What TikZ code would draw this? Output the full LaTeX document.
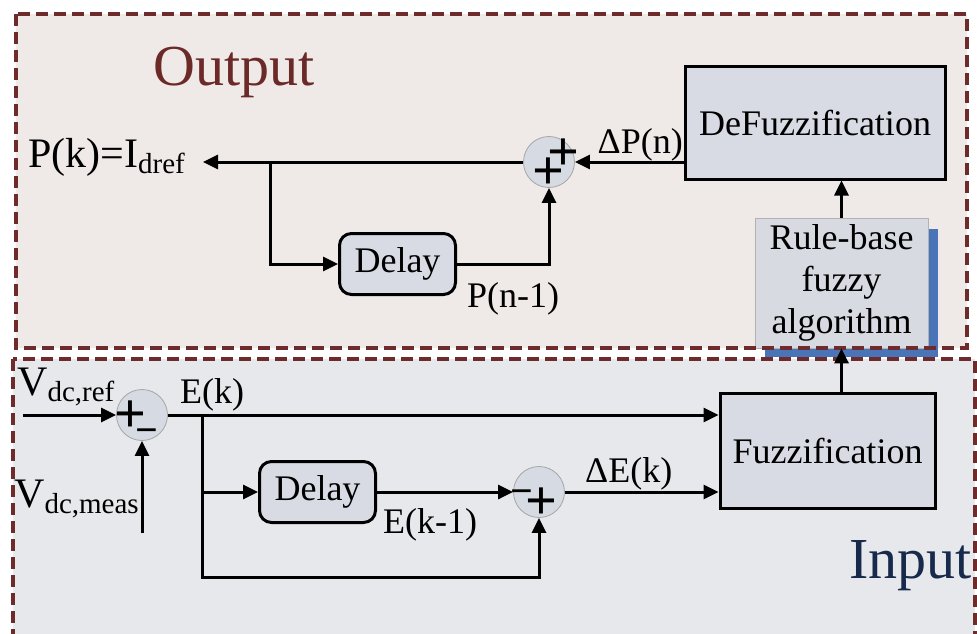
\documentclass[tikz,border=0pt]{standalone}
\usepackage{fontspec}
\setmainfont{Liberation Serif}
\usepackage{xcolor}
\usetikzlibrary{calc,arrows.meta,positioning}
\definecolor{outbg}{HTML}{EFE9E7}
\definecolor{inbg}{HTML}{E7E8EC}
\definecolor{framec}{HTML}{6E2B2B}
\definecolor{boxc}{HTML}{D8DBE3}
\definecolor{rulec}{HTML}{D7DAE1}
\definecolor{shadec}{HTML}{4A74B8}
\definecolor{outc}{HTML}{6B2A27}
\definecolor{inc}{HTML}{172A4B}
\definecolor{sumc}{HTML}{D6DAE3}
\newcommand{\subtx}[1]{\raisebox{-6pt}{\fontsize{29}{30}\selectfont #1}}
\tikzset{
  ar/.style={-{Triangle[length=15pt,width=14pt]},line width=3pt},
  frame/.style={draw=framec,line width=3.2pt,dash pattern=on 12pt off 6pt},
  blk/.style={draw,line width=3pt,fill=boxc,inner sep=0pt,font=\fontsize{36}{42}\selectfont},
  dly/.style={blk,rounded corners=12pt,minimum width=116pt,minimum height=61pt},
  sum/.style={circle,draw=gray!70,line width=0.8pt,fill=sumc,minimum size=51pt,inner sep=0pt},
  lbl/.style={font=\fontsize{36}{42}\selectfont,inner sep=0pt},
  biglbl/.style={font=\fontsize{42}{46}\selectfont,inner sep=0pt},
  sgn/.style={font=\fontsize{56}{56}\selectfont\bfseries,inner sep=0pt},
  msgn/.style={font=\fontsize{40}{40}\selectfont\bfseries,inner sep=0pt},
  ttl/.style={font=\fontsize{58}{60}\selectfont,inner sep=0pt}
}

\begin{document}
\begin{tikzpicture}[x=1pt,y=-1pt]
\clip (0,0) rectangle (977,634);
% panels
\fill[outbg] (16,14) rectangle (967,348);
\fill[inbg] (13,359) rectangle (975,650);
\fill[shadec] (765,229) rectangle (938,357);
\node[lbl,draw=gray!60,line width=0.8pt,fill=rulec,minimum width=173pt,minimum height=130pt,align=center] (rule) at (841.5,283) {Rule-base\\fuzzy\\algorithm};
\draw[frame] (16,14) rectangle (967,348);
\draw[frame] (13,359) rectangle (975,650);
\node[ttl,text=outc,anchor=base west] (outl) at (153,85) {Output};
\node[ttl,text=inc,anchor=base east] (inl) at (972,578) {Input};

% output side
\node[blk,minimum width=260pt,minimum height=112pt] (defuz) at (815,123) {DeFuzzification};
\node[sum] (sumP) at (549,162) {};
\node[sgn] (pP1) at (563,155) {+};
\node[sgn] (pP2) at (548,174) {+};
\node[dly] (delayP) at (397.5,264) {Delay};
\coordinate (pkend) at (203,162);
\coordinate (brP) at (270,162);
\node[biglbl,anchor=base west] (pk) at (28,167) {P(k)=I\subtx{dref}};
\node[lbl,anchor=base east] (dp) at (683,153) {ΔP(n)};
\node[lbl,anchor=base west] (pn1) at (467,307) {P(n-1)};
\draw[ar] (defuz.west |- sumP) -- (sumP);
\draw[ar] (sumP) -- (pkend);
\draw[ar] (brP) |- (delayP);
\draw[ar] (delayP) -| (sumP);
\draw[ar] (rule.north) -- (rule.north |- defuz.south);

% input side
\node[blk,minimum width=215pt,minimum height=115pt] (fuz) at (827.5,450.5) {Fuzzification};
\node[sum] (sumE) at (142,415) {};
\node[sgn] (pE1) at (130,417) {+};
\node[msgn] (mE1) at (147,436) {−};
\node[sum] (sumD) at (539,492) {};
\node[msgn] (mD1) at (522,497) {−};
\node[sgn] (pD1) at (541,504) {+};
\node[dly] (delayE) at (317.5,492) {Delay};
\coordinate (vin) at (23,415);
\coordinate (vm) at (142,533);
\coordinate (brE) at (202,415);
\coordinate (cE) at (539,577);
\node[biglbl,anchor=base west] (vref) at (17,395) {V\subtx{dc,ref}};
\node[biglbl,anchor=base west] (vmeas) at (14,507) {V\subtx{dc,meas}};
\node[lbl,anchor=base west] (ek) at (180,403) {E(k)};
\node[lbl,anchor=base west] (ek1) at (383,533) {E(k-1)};
\node[lbl,anchor=base west] (de) at (585,482) {ΔE(k)};
\draw[ar] (vin) -- (sumE);
\draw[ar] (vm) -- (sumE);
\draw[ar] (sumE) -- (sumE -| fuz.west);
\draw[ar] (brE |- delayE) -- (delayE);
\draw[ar] (brE) |- (cE) -- (sumD);
\draw[ar] (delayE) -- (sumD);
\draw[ar] (sumD) -- (sumD -| fuz.west);
\draw[ar] (fuz.north -| rule) -- (rule.south);
\end{tikzpicture}
\end{document}
